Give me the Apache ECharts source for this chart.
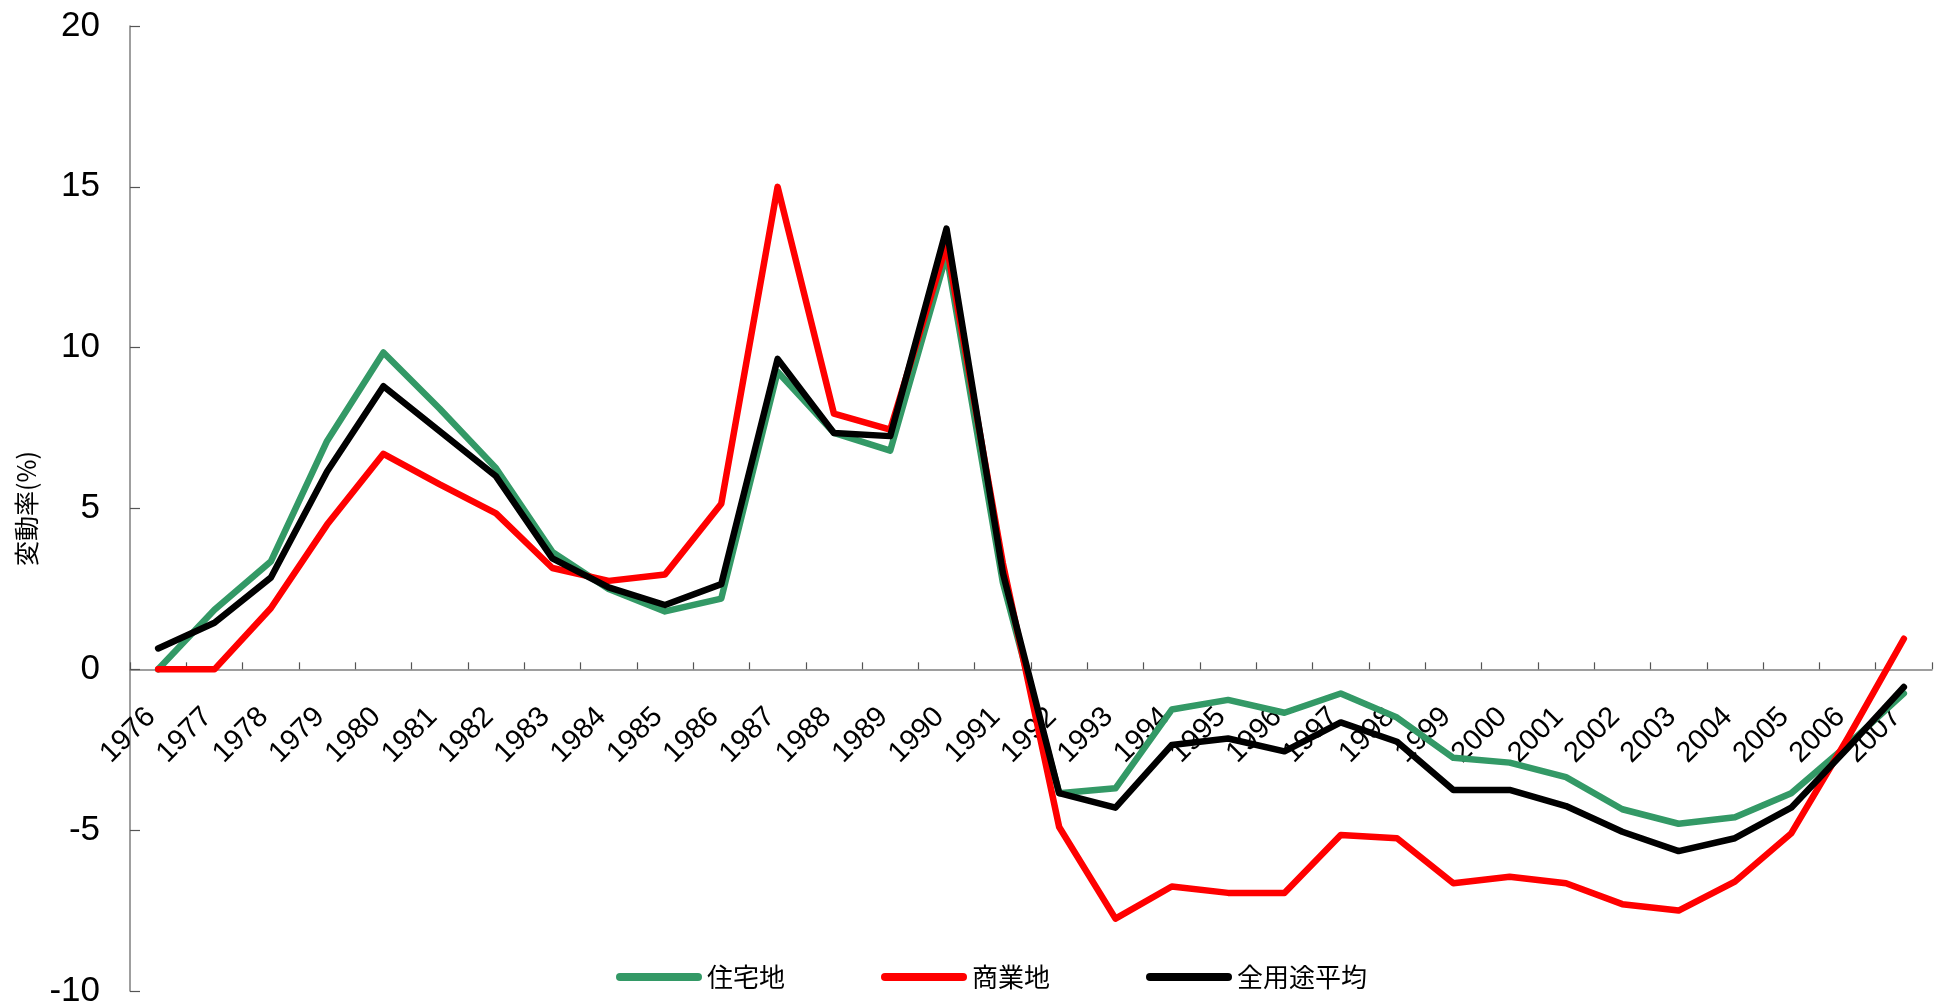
<!DOCTYPE html>
<html>
<head>
<meta charset="utf-8">
<script src="https://cdn.jsdelivr.net/npm/echarts@6/dist/echarts.min.js"></script>
<style>
html,body{margin:0;padding:0;background:#fff;}
#c{width:1940px;height:1008px;}
</style>
</head>
<body>
<div id="c"></div>
<script>
const years = ['1976','1977','1978','1979','1980','1981','1982','1983','1984','1985','1986','1987','1988','1989','1990','1991','1992','1993','1994','1995','1996','1997','1998','1999','2000','2001','2002','2003','2004','2005','2006','2007'];
const residential = [0, 1.85, 3.35, 7.1, 9.85, 8.1, 6.25, 3.65, 2.5, 1.8, 2.2, 9.25, 7.35, 6.8, 12.9, 2.7, -3.85, -3.7, -1.25, -0.95, -1.35, -0.75, -1.5, -2.75, -2.9, -3.35, -4.35, -4.8, -4.6, -3.85, -2.35, -0.75];
const commercial = [0, 0, 1.9, 4.5, 6.7, 5.75, 4.85, 3.15, 2.75, 2.95, 5.15, 15.0, 7.95, 7.45, 13.2, 3.3, -4.9, -7.75, -6.75, -6.95, -6.95, -5.15, -5.25, -6.65, -6.45, -6.65, -7.3, -7.5, -6.6, -5.1, -2.15, 0.95];
const allUse = [0.65, 1.45, 2.85, 6.15, 8.8, 7.4, 6.0, 3.45, 2.55, 2.0, 2.65, 9.65, 7.35, 7.25, 13.7, 3.0, -3.85, -4.3, -2.35, -2.15, -2.55, -1.65, -2.25, -3.75, -3.75, -4.25, -5.05, -5.65, -5.25, -4.3, -2.45, -0.55];
const seriesNames = ['住宅地', '商業地', '全用途平均'];
const yTicks = {min: -10, max: 20, interval: 5};

const gridTop = 26, gridBottom = 17, H = 1008;
const plotH = H - gridTop - gridBottom;
const zeroOffset = -plotH * (0 - yTicks.min) / (yTicks.max - yTicks.min);

const chart = echarts.init(document.getElementById('c'), null, {renderer: 'canvas'});
const lineBase = (name, data, color) => ({
  name: name,
  type: 'line',
  data: data,
  symbol: 'none',
  color: color,
  lineStyle: {color: color, width: 6.5, cap: 'round', join: 'round'},
  animation: false
});
chart.setOption({
  backgroundColor: '#ffffff',
  animation: false,
  grid: {left: 130, right: 8, top: gridTop, bottom: gridBottom, containLabel: false, outerBoundsMode: 'none'},
  legend: {
    data: seriesNames,
    left: 611,
    top: 959,
    icon: 'path://M4,0 L82,0 A4,4 0 0 1 82,8 L4,8 A4,4 0 0 1 4,0 Z',
    itemWidth: 86,
    itemHeight: 8,
    itemGap: 96,
    textStyle: {fontSize: 26, color: '#000', fontFamily: 'Noto Sans CJK JP'}
  },
  xAxis: {
    type: 'category',
    data: years,
    boundaryGap: true,
    offset: zeroOffset,
    axisLine: {onZero: false, lineStyle: {color: '#7f7f7f', width: 1.5}},
    axisTick: {show: true, inside: true, length: 7, interval: 0, lineStyle: {color: '#555', width: 1.2}},
    axisLabel: {interval: 0, rotate: 45, fontSize: 29, color: '#000', fontFamily: 'Liberation Sans', margin: 36, padding: [0, 10, 0, 0]},
    splitLine: {show: false}
  },
  yAxis: {
    type: 'value',
    min: yTicks.min,
    max: yTicks.max,
    interval: yTicks.interval,
    name: '変動率(%)',
    nameLocation: 'middle',
    nameGap: 86,
    nameTextStyle: {fontSize: 25, color: '#000', fontFamily: 'Noto Sans CJK JP'},
    axisLine: {show: true, lineStyle: {color: '#7f7f7f', width: 1.5}},
    axisTick: {show: true, inside: true, length: 10, lineStyle: {color: '#555', width: 1.2}},
    axisLabel: {fontSize: 35, color: '#000', fontFamily: 'Liberation Sans', margin: 30},
    splitLine: {show: false}
  },
  series: [
    lineBase(seriesNames[0], residential, '#339966'),
    lineBase(seriesNames[1], commercial, '#ff0000'),
    lineBase(seriesNames[2], allUse, '#000000')
  ]
});
</script>
</body>
</html>
